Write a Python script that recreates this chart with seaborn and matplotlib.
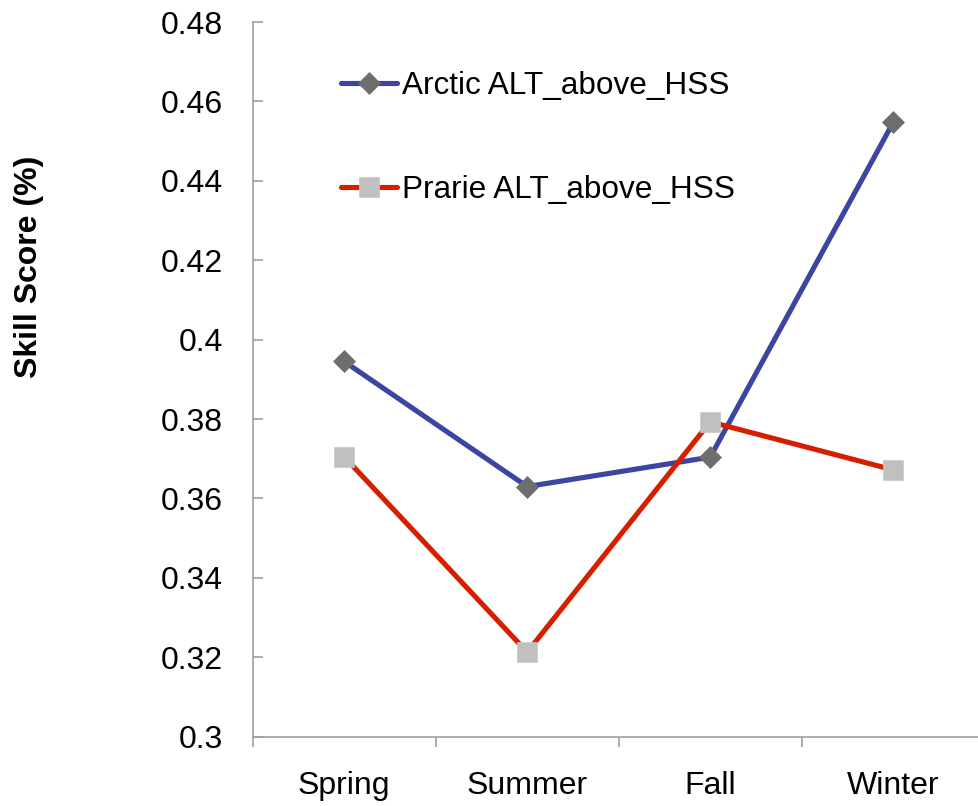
import matplotlib
matplotlib.use("Agg")
import matplotlib.pyplot as plt
import seaborn as sns
import pandas as pd
import numpy as np

seasons = ["Spring", "Summer", "Fall", "Winter"]
arctic = [0.3945, 0.3630, 0.3704, 0.4547]
prarie = [0.3705, 0.3213, 0.3793, 0.3672]
arctic_label = "Arctic ALT_above_HSS"
prarie_label = "Prarie ALT_above_HSS"
y_ticks = [0.30, 0.32, 0.34, 0.36, 0.38, 0.40, 0.42, 0.44, 0.46, 0.48]
y_label = "Skill Score (%)"

sns.set_style("white")
plt.rcParams["font.family"] = ["Liberation Sans", "DejaVu Sans"]
plt.rcParams["text.color"] = "black"

W, H = 979, 806
fig = plt.figure(figsize=(W / 100, H / 100), dpi=100)
left, right, top, bottom = 252.7, 984.7, 22.0, 736.7
ax = fig.add_axes([left / W, 1 - bottom / H, (right - left) / W, (bottom - top) / H])

df_a = pd.DataFrame({"season": seasons, "score": arctic})
df_p = pd.DataFrame({"season": seasons, "score": prarie})

blue = "#3C45A0"
red = "#D42000"
sns.lineplot(data=df_a, x="season", y="score", sort=False, ax=ax, color=blue,
             linewidth=3.7, marker="D", markersize=10.8, label=arctic_label, zorder=3)
sns.lineplot(data=df_p, x="season", y="score", sort=False, ax=ax, color=red,
             linewidth=3.7, marker="s", markersize=14.5, label=prarie_label, zorder=4)
ax.lines[0].set_markerfacecolor("#6E6E6E")
ax.lines[0].set_markeredgecolor("#6E6E6E")
ax.lines[0].set_markeredgewidth(0.5)
ax.lines[1].set_markerfacecolor("#C0C0C0")
ax.lines[1].set_markeredgecolor("#C8C8C8")
ax.lines[1].set_markeredgewidth(0.5)

ax.set_xlim(-0.5, 3.5)
ax.set_ylim(0.3, 0.48)
ax.set_xlabel("")
ax.set_ylabel("")

spine_c = "#A0A0A0"
for s in ["top", "right"]:
    ax.spines[s].set_visible(False)
for s in ["left", "bottom"]:
    ax.spines[s].set_color(spine_c)
    ax.spines[s].set_linewidth(1.2)

ax.set_yticks(y_ticks)
ax.set_yticklabels([f"{v:g}" for v in y_ticks])
ax.tick_params(axis="y", left=True, direction="in", length=7.2, width=1.2, color=spine_c,
               pad=21.4, labelsize=23, labelcolor="black")

ax.set_xticks([-0.5, 0.5, 1.5, 2.5, 3.5])
ax.set_xticklabels([""] * 5)
ax.set_xticks([0, 1, 2, 3], labels=seasons, minor=True)
ax.tick_params(axis="x", which="major", bottom=True, direction="out", length=7.2,
               width=1.2, color=spine_c)
ax.tick_params(axis="x", which="minor", bottom=True, length=0, pad=25, labelsize=23,
               labelcolor="black")

fig.text(29 / W, 1 - 267 / H, y_label, rotation=90, ha="center", va="center",
         fontsize=23, fontweight="bold", color="black")

leg = ax.legend(loc="upper left", bbox_to_anchor=(340.7 / W, 1 - 71 / H),
                bbox_transform=fig.transFigure, frameon=False, fontsize=22.7,
                handlelength=1.78, handletextpad=0.16, labelspacing=2.35,
                borderpad=0, borderaxespad=0)
for t in leg.get_texts():
    t.set_color("black")

fig.savefig("out.png", dpi=100)
